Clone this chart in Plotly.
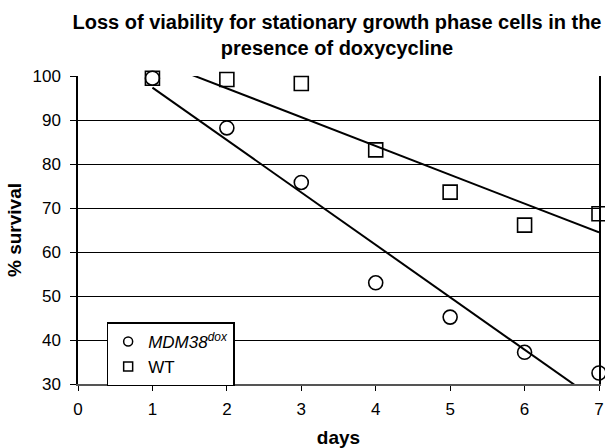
import numpy as np
import plotly.graph_objects as go

days = [1, 2, 3, 4, 5, 6, 7]
mdm38_survival = [99.5, 88.2, 75.8, 53.0, 45.2, 37.2, 32.5]
wt_survival = [99.5, 99.2, 98.3, 83.2, 73.6, 66.1, 68.7]

title_text = "Loss of viability for stationary growth phase cells in the<br>presence of doxycycline"
x_title = "days"
y_title = "% survival"
legend_names = ["<i>MDM38</i><sup><i>dox</i></sup>", "WT"]

FONT = "Liberation Sans, Arial, sans-serif"

fig = go.Figure()

# linear trend lines computed from the data
xs = np.array(days, dtype=float)
for ys in (mdm38_survival, wt_survival):
    k, b = np.polyfit(xs, np.array(ys), 1)
    xl = np.array([xs.min(), xs.max()])
    fig.add_trace(go.Scatter(x=xl, y=k * xl + b, mode="lines",
                             line=dict(color="black", width=2),
                             showlegend=False, hoverinfo="skip"))

symbols = ["circle-open", "square-open"]
for name, ys, sym in zip(legend_names, (mdm38_survival, wt_survival), symbols):
    fig.add_trace(go.Scatter(x=days, y=ys, mode="markers", name=name, showlegend=False,
                             marker=dict(symbol=sym, size=14, color="black",
                                         line=dict(width=1.6, color="black")),
                             cliponaxis=False))

# legend entries with smaller symbols
for i, (name, sym) in enumerate(zip(legend_names, symbols)):
    fig.add_trace(go.Scatter(x=[None], y=[None], mode="markers", name=name,
                             legendgroup=f"g{i}",
                             marker=dict(symbol=sym, size=9, color="black",
                                         line=dict(width=1.5, color="black"))))

fig.update_layout(
    width=605, height=448,
    margin=dict(l=78, r=6, t=76, b=64),
    paper_bgcolor="white", plot_bgcolor="white",
    font=dict(family=FONT, size=17, color="black"),
    title=dict(text="<b>" + title_text + "</b>", x=0.557, xanchor="center",
               y=1 - 28.5 / 448, yanchor="middle", font=dict(size=20, family=FONT, color="black")),
    xaxis=dict(range=[0, 7], dtick=1, tick0=0, showgrid=False, zeroline=False,
               showline=True, linecolor="#555555", linewidth=2, automargin=False,
               ticks="outside", ticklen=5, tickcolor="black", tickwidth=1,
               tickfont=dict(size=17), ticklabelstandoff=4,
               title=dict(text="<b>" + x_title + "</b>", font=dict(size=19), standoff=12)),
    yaxis=dict(range=[30, 100], dtick=10, tick0=30, showgrid=True, gridcolor="black",
               gridwidth=1, zeroline=False, showline=True, linecolor="black", linewidth=1.5,
               mirror=True, automargin=False,
               ticks="outside", ticklen=6, tickcolor="black", tickwidth=1,
               tickfont=dict(size=17), ticklabelstandoff=6,
               title=dict(text="<b>" + y_title + "</b>", font=dict(size=19), standoff=6)),
    legend=dict(x=0.055, y=0.2, xanchor="left", yanchor="top",
                bgcolor="white", bordercolor="black", borderwidth=1.5,
                font=dict(size=17), itemwidth=30, tracegroupgap=0),
    showlegend=True,
)

fig.write_html("out.html", config={"displayModeBar": False},
               post_script="document.body.style.margin='0';"
                           "document.body.style.overflow='hidden';"
                           "document.documentElement.style.overflow='hidden';")
